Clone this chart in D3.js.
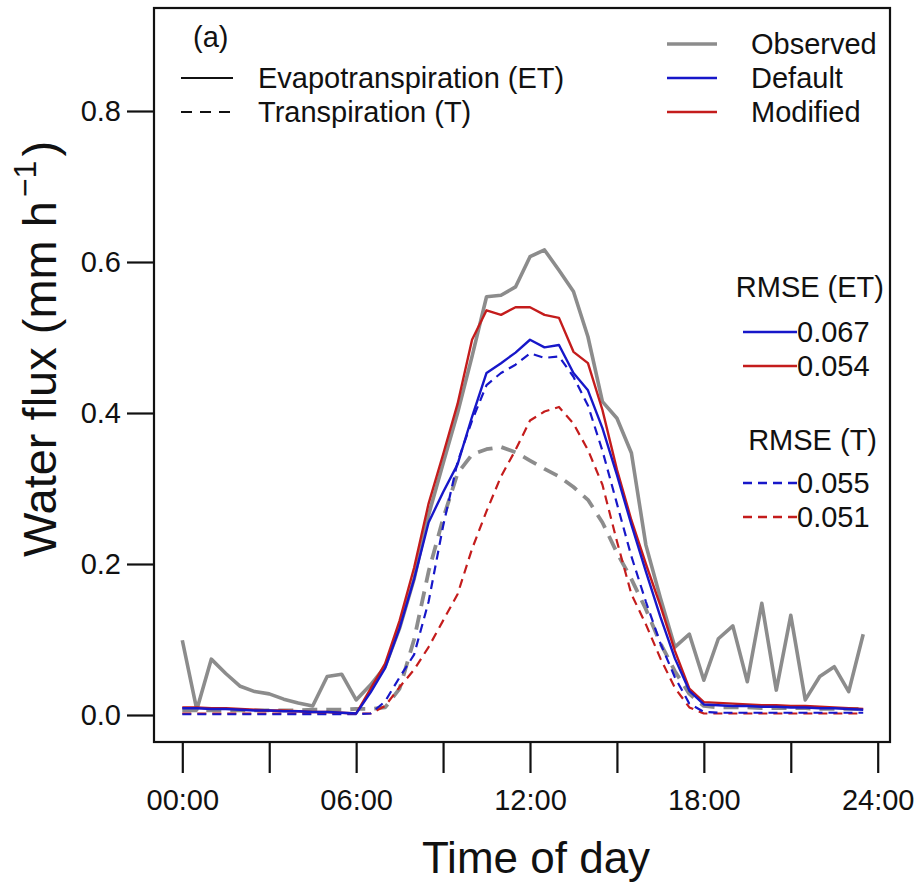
<!DOCTYPE html>
<html>
<head>
<meta charset="utf-8">
<script src="https://cdn.jsdelivr.net/npm/d3@7"></script>
<style>
  body { margin: 0; background: #fff; }
  text { font-family: "Liberation Sans", Arial, sans-serif; fill: #111; }
</style>
</head>
<body>
<script>
// Half-hourly time of day (hours)
const hours = [0, 0.5, 1, 1.5, 2, 2.5, 3, 3.5, 4, 4.5, 5, 5.5, 6, 6.5, 7, 7.5, 8, 8.5, 9, 9.5,
    10, 10.5, 11, 11.5, 12, 12.5, 13, 13.5, 14, 14.5, 15, 15.5, 16, 16.5, 17, 17.5, 18, 18.5, 19, 19.5,
    20, 20.5, 21, 21.5, 22, 22.5, 23, 23.5];

// Evapotranspiration (ET), mm h-1
const observedET = [0.099, 0.007, 0.074, 0.055, 0.038, 0.031, 0.028, 0.021, 0.016, 0.012, 0.051, 0.054,
    0.020, 0.040, 0.064, 0.115, 0.180, 0.265, 0.333, 0.400, 0.475, 0.554, 0.556, 0.567,
    0.607, 0.616, 0.589, 0.561, 0.501, 0.415, 0.393, 0.347, 0.225, 0.155, 0.090, 0.107,
    0.046, 0.101, 0.118, 0.044, 0.148, 0.033, 0.132, 0.020, 0.051, 0.064, 0.031, 0.107];
const defaultET = [0.009, 0.009, 0.008, 0.008, 0.007, 0.006, 0.006, 0.005, 0.005, 0.004, 0.004, 0.003,
    0.002, 0.030, 0.062, 0.115, 0.180, 0.255, 0.295, 0.332, 0.395, 0.453, 0.466, 0.480,
    0.497, 0.487, 0.490, 0.453, 0.430, 0.380, 0.318, 0.252, 0.190, 0.130, 0.075, 0.032,
    0.014, 0.013, 0.012, 0.012, 0.011, 0.011, 0.010, 0.010, 0.009, 0.009, 0.008, 0.007];
const modifiedET = [0.010, 0.010, 0.009, 0.009, 0.008, 0.007, 0.006, 0.006, 0.005, 0.004, 0.004, 0.003,
    0.002, 0.035, 0.068, 0.125, 0.195, 0.280, 0.345, 0.412, 0.497, 0.536, 0.530, 0.540,
    0.540, 0.530, 0.526, 0.481, 0.466, 0.404, 0.325, 0.258, 0.200, 0.145, 0.085, 0.035,
    0.017, 0.016, 0.015, 0.014, 0.013, 0.013, 0.012, 0.012, 0.011, 0.010, 0.009, 0.008];

// Transpiration (T), mm h-1
const observedT = [0.006, 0.006, 0.006, 0.006, 0.006, 0.006, 0.006, 0.006, 0.006, 0.007, 0.007, 0.007,
    0.008, 0.008, 0.010, 0.035, 0.100, 0.190, 0.260, 0.320, 0.345, 0.352, 0.355, 0.348,
    0.337, 0.326, 0.316, 0.302, 0.285, 0.255, 0.215, 0.180, 0.140, 0.095, 0.058, 0.028,
    0.012, 0.010, 0.010, 0.010, 0.009, 0.009, 0.009, 0.009, 0.008, 0.008, 0.008, 0.008];
const defaultT = [0.001, 0.001, 0.001, 0.001, 0.001, 0.001, 0.001, 0.001, 0.001, 0.001, 0.001, 0.001,
    0.001, 0.002, 0.018, 0.050, 0.080, 0.150, 0.250, 0.335, 0.390, 0.437, 0.453, 0.464,
    0.479, 0.473, 0.475, 0.448, 0.410, 0.350, 0.280, 0.210, 0.150, 0.095, 0.050, 0.015,
    0.004, 0.003, 0.003, 0.003, 0.003, 0.003, 0.003, 0.003, 0.003, 0.003, 0.003, 0.003];
const modifiedT = [0.002, 0.002, 0.002, 0.002, 0.002, 0.002, 0.002, 0.002, 0.002, 0.002, 0.002, 0.002,
    0.002, 0.002, 0.012, 0.037, 0.060, 0.090, 0.125, 0.160, 0.220, 0.270, 0.316, 0.351,
    0.390, 0.402, 0.408, 0.386, 0.351, 0.305, 0.230, 0.160, 0.120, 0.075, 0.036, 0.010,
    0.002, 0.002, 0.002, 0.002, 0.002, 0.002, 0.002, 0.002, 0.002, 0.002, 0.002, 0.002];

// Axis ticks and legend labels
const xTicks = [0, 3, 6, 9, 12, 15, 18, 21, 24];
const xTickLabels = {0: "00:00", 6: "06:00", 12: "12:00", 18: "18:00", 24: "24:00"};
const yTicks = [0, 0.2, 0.4, 0.6, 0.8];
const seriesNames = ["Observed", "Default", "Modified"];
const rmseET = ["0.067", "0.054"];
const rmseT = ["0.055", "0.051"];

const colours = { Observed: "#8c8c8c", Default: "#1717c9", Modified: "#c41c1c" };

// SVG dimensions / plot box
const width = 917, height = 887;
const box = { left: 154, right: 890, top: 8, bottom: 742 };

const svg = d3.select("body").append("svg")
    .attr("width", width)
    .attr("height", height);

// Scales (0h -> 182.3px, 24h -> 877.7px ; 0 -> 715px, 0.8 -> 111px)
const x = d3.scaleLinear().domain([0, 24]).range([182.3, 877.7]);
const y = d3.scaleLinear().domain([0, 0.8]).range([715, 111]);

// Lines
const line = d3.line()
    .x((d, i) => x(hours[i]))
    .y(d => y(d));

const series = [
    { values: observedT, colour: colours.Observed, width: 3.8, dash: "15,9" },
    { values: observedET, colour: colours.Observed, width: 3.6, dash: null },
    { values: modifiedT, colour: colours.Modified, width: 2.2, dash: "9,6" },
    { values: defaultT, colour: colours.Default, width: 2.2, dash: "9,6" },
    { values: modifiedET, colour: colours.Modified, width: 2.4, dash: null },
    { values: defaultET, colour: colours.Default, width: 2.4, dash: null }
];

series.forEach(s => {
    svg.append("path")
        .datum(s.values)
        .attr("fill", "none")
        .attr("stroke", s.colour)
        .attr("stroke-width", s.width)
        .attr("stroke-dasharray", s.dash)
        .attr("stroke-linejoin", "round")
        .attr("d", line);
});

// Box
svg.append("rect")
    .attr("x", box.left).attr("y", box.top)
    .attr("width", box.right - box.left)
    .attr("height", box.bottom - box.top)
    .attr("fill", "none")
    .attr("stroke", "#111")
    .attr("stroke-width", 2.2);

// X axis (ticks hang below box)
const xAxis = svg.append("g")
    .attr("transform", `translate(0, ${box.bottom})`)
    .call(d3.axisBottom(x)
        .tickValues(xTicks)
        .tickSize(31)
        .tickPadding(16)
        .tickFormat(d => xTickLabels[d] || ""));
xAxis.select(".domain").remove();
xAxis.selectAll(".tick line").attr("stroke", "#111").attr("stroke-width", 2.2);
xAxis.selectAll(".tick text")
    .attr("font-size", 29)
    .attr("font-family", "Liberation Sans, Arial, sans-serif")
    .attr("fill", "#111");

// Y axis
const yAxis = svg.append("g")
    .attr("transform", `translate(${box.left}, 0)`)
    .call(d3.axisLeft(y)
        .tickValues(yTicks)
        .tickSize(27)
        .tickPadding(6)
        .tickFormat(d3.format(".1f")));
yAxis.select(".domain").remove();
yAxis.selectAll(".tick line").attr("stroke", "#111").attr("stroke-width", 2.2);
yAxis.selectAll(".tick text")
    .attr("font-size", 29)
    .attr("font-family", "Liberation Sans, Arial, sans-serif")
    .attr("fill", "#111");

// Axis titles
svg.append("text")
    .attr("x", 536)
    .attr("y", 873)
    .attr("text-anchor", "middle")
    .attr("font-size", 44)
    .text("Time of day");

const yTitle = svg.append("text")
    .attr("transform", "translate(56, 349) rotate(-90)")
    .attr("text-anchor", "middle")
    .attr("font-size", 47);
yTitle.append("tspan").text("Water flux (mm h");
yTitle.append("tspan").attr("font-size", 32).attr("dx", 4).attr("dy", -20).text("\u22121");
yTitle.append("tspan").attr("dx", 4).attr("dy", 20).text(")");

// Panel label
svg.append("text").attr("x", 193).attr("y", 47).attr("font-size", 29).text("(a)");

// Line-type legend
const typeLegend = [
    { label: "Evapotranspiration (ET)", dash: null, y: 78 },
    { label: "Transpiration (T)", dash: "11,8", y: 112 }
];
typeLegend.forEach(d => {
    svg.append("line")
        .attr("x1", 181).attr("x2", 233)
        .attr("y1", d.y).attr("y2", d.y)
        .attr("stroke", "#111").attr("stroke-width", 2.2)
        .attr("stroke-dasharray", d.dash);
    svg.append("text")
        .attr("x", 258).attr("y", d.y + 10)
        .attr("font-size", 29)
        .text(d.label);
});

// Model legend
seriesNames.forEach((name, i) => {
    const ly = 44 + i * 34;
    svg.append("line")
        .attr("x1", 667).attr("x2", 717)
        .attr("y1", ly).attr("y2", ly)
        .attr("stroke", colours[name])
        .attr("stroke-width", name === "Observed" ? 3.6 : 2.4);
    svg.append("text")
        .attr("x", 751).attr("y", ly + 10)
        .attr("font-size", 29)
        .text(name);
});

// RMSE legends
function rmseBlock(title, titleRight, titleY, values, startY, dash) {
    svg.append("text")
        .attr("x", titleRight).attr("y", titleY + 10)
        .attr("text-anchor", "end")
        .attr("font-size", 29)
        .text(title);
    values.forEach((v, i) => {
        const ly = startY + i * 34;
        const c = i === 0 ? colours.Default : colours.Modified;
        svg.append("line")
            .attr("x1", 743).attr("x2", 797)
            .attr("y1", ly).attr("y2", ly)
            .attr("stroke", c).attr("stroke-width", 2.4)
            .attr("stroke-dasharray", dash);
        svg.append("text")
            .attr("x", 797).attr("y", ly + 10)
            .attr("font-size", 29)
            .text(v);
    });
}
rmseBlock("RMSE (ET)", 884, 287, rmseET, 332, null);
rmseBlock("RMSE (T)", 877, 440, rmseT, 483, "9,6");
</script>
</body>
</html>
